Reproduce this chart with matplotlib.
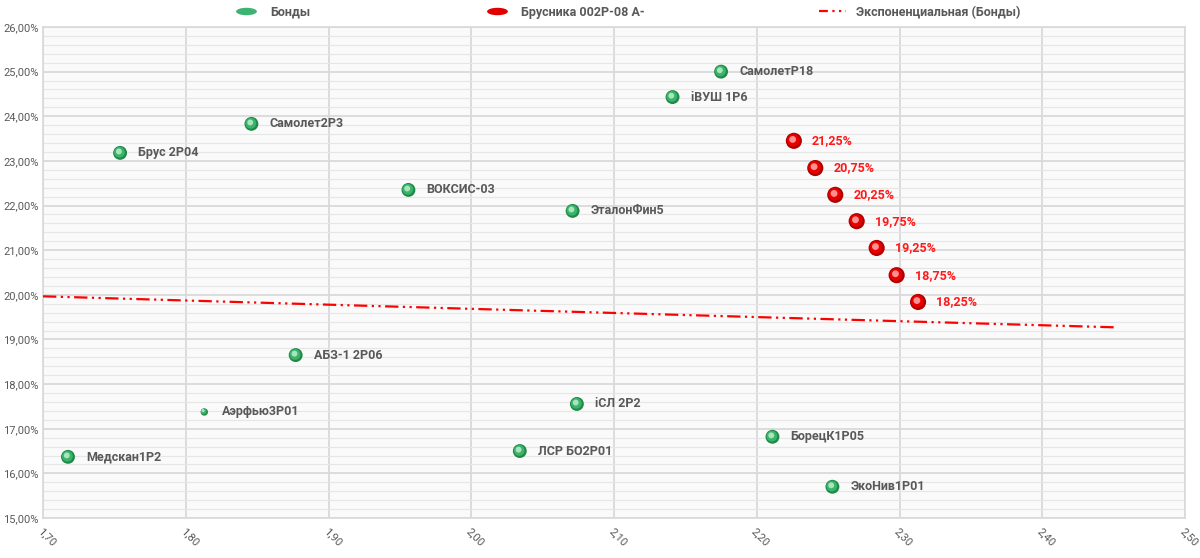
import numpy as np
import matplotlib
matplotlib.use('Agg')
import matplotlib.pyplot as plt
from matplotlib.path import Path
from matplotlib.transforms import Affine2D, ScaledTranslation
from matplotlib.lines import Line2D
from matplotlib.ticker import MultipleLocator, FuncFormatter

plt.rcParams['font.family'] = ['Roboto', 'DejaVu Sans']

# облигации: дюрация / доходность, %
bond_names = ['Медскан1P2', 'Брус 2P04', 'Аэрфью3P01', 'Самолет2P3', 'АБЗ-1 2P06',
              'ВОКСИС-03', 'ЛСР БО2P01', 'ЭталонФин5', 'iСЛ 2P2', 'iВУШ 1P6',
              'СамолетP18', 'БорецК1P05', 'ЭкоНив1P01']
bond_x = [1.7175, 1.754, 1.813, 1.846, 1.877, 1.956, 2.034, 2.071, 2.074, 2.141,
          2.175, 2.211, 2.253]
bond_y = [16.37, 23.18, 17.375, 23.83, 18.65, 22.35, 16.50, 21.88, 17.555, 24.43,
          25.00, 16.82, 15.70]
bond_size = [100, 100, 28, 100, 100, 100, 100, 100, 100, 100, 100, 100, 100]

# Брусника 002P-08 A-
brus_labels = ['21,25%', '20,75%', '20,25%', '19,75%', '19,25%', '18,75%', '18,25%']
brus_x = [2.226, 2.241, 2.255, 2.270, 2.284, 2.298, 2.313]
brus_y = [23.45, 22.84, 22.24, 21.65, 21.05, 20.44, 19.84]

trend_x = [1.70, 2.45]

GRAY = '#595959'


def sphere(ax, x, y, s, base, mid, light, zorder=5):
    # имитация объёмного шарика
    ax.scatter(x, y, s=s, color=base, edgecolors='none', zorder=zorder)
    tr1 = ax.transData + ScaledTranslation(-0.006, 0.006, ax.figure.dpi_scale_trans)
    ax.scatter(x, y, s=np.array(s) * 0.6, color=mid, edgecolors='none', zorder=zorder + 1, transform=tr1)
    tr2 = ax.transData + ScaledTranslation(-0.012, 0.014, ax.figure.dpi_scale_trans)
    ax.scatter(x, y, s=np.array(s) * 0.18, color=light, edgecolors='none', zorder=zorder + 2, transform=tr2)


fig = plt.figure(figsize=(12, 5.58), dpi=100)
ax = fig.add_axes([43 / 1200, 1 - 518 / 558, (1185 - 43) / 1200, (518 - 27) / 558])
ax.set_facecolor('#fafafa')

ax.set_xlim(1.70, 2.50)
ax.set_ylim(15, 26)
ax.xaxis.set_major_locator(MultipleLocator(0.1))
ax.yaxis.set_major_locator(MultipleLocator(1))
ax.yaxis.set_minor_locator(MultipleLocator(0.2))
ax.grid(which='major', color='#d9d9d9', lw=1.3, zorder=0)
ax.grid(which='minor', axis='y', color='#e6e6e6', lw=0.8, zorder=0)
ax.set_axisbelow(True)
for sp in ax.spines.values():
    sp.set_color('#d9d9d9')
    sp.set_linewidth(1.2)

ax.xaxis.set_major_formatter(FuncFormatter(lambda v, p: ('%.2f' % v).replace('.', ',')))
ax.yaxis.set_major_formatter(FuncFormatter(lambda v, p: ('%.2f%%' % v).replace('.', ',')))
ax.tick_params(which='both', length=0, colors=GRAY, labelsize=8)
ax.tick_params(axis='y', pad=3)
ax.tick_params(axis='x', pad=6)
for lab in ax.get_xticklabels():
    lab.set_rotation(-45)
    lab.set_ha('left')
    lab.set_va('top')
    lab.set_rotation_mode('anchor')

# экспоненциальный тренд по облигациям
b, a = np.polyfit(bond_x, np.log(bond_y), 1)
tx = np.linspace(trend_x[0], trend_x[1], 50)
ax.plot(tx, np.exp(a + b * tx), color='#ff0000', lw=1.6, dashes=(6, 2, 1, 2, 1, 2), zorder=3)

sphere(ax, bond_x, bond_y, bond_size, '#1f8a48', '#3bb36a', '#a8e4bd')
sphere(ax, brus_x, brus_y, [135] * len(brus_x), '#b00000', '#e80000', '#ff9090')

for n, x, y in zip(bond_names, bond_x, bond_y):
    ax.annotate(n, (x, y), xytext=(13, 0), textcoords='offset points', va='center', ha='left',
                fontsize=9, fontweight='bold', color=GRAY)
for n, x, y in zip(brus_labels, brus_x, brus_y):
    ax.annotate(n, (x, y), xytext=(13, 0), textcoords='offset points', va='center', ha='left',
                fontsize=9, fontweight='bold', color='#ff1a1a')

# легенда
ellipse = Path(Affine2D().scale(2.8, 1).transform(Path.unit_circle().vertices), Path.unit_circle().codes)
handles = [
    Line2D([], [], ls='none', marker=ellipse, markersize=15, color='#3cb371', mec='none'),
    Line2D([], [], ls='none', marker=ellipse, markersize=15, color='#e00000', mec='none'),
    Line2D([], [], color='#ff0000', lw=1.6, dashes=(4, 2, 1, 2, 1, 2)),
]
fig.legend(handles, ['Бонды', 'Брусника 002P-08 A-', 'Экспоненциальная (Бонды)'],
           loc='upper center', bbox_to_anchor=(0.522, 1.01), ncol=3, frameon=False,
           columnspacing=13.9, handlelength=2.2, handletextpad=0.8,
           prop={'size': 9, 'weight': 'bold'}, labelcolor=GRAY)

fig.savefig('out.png', dpi=100)
